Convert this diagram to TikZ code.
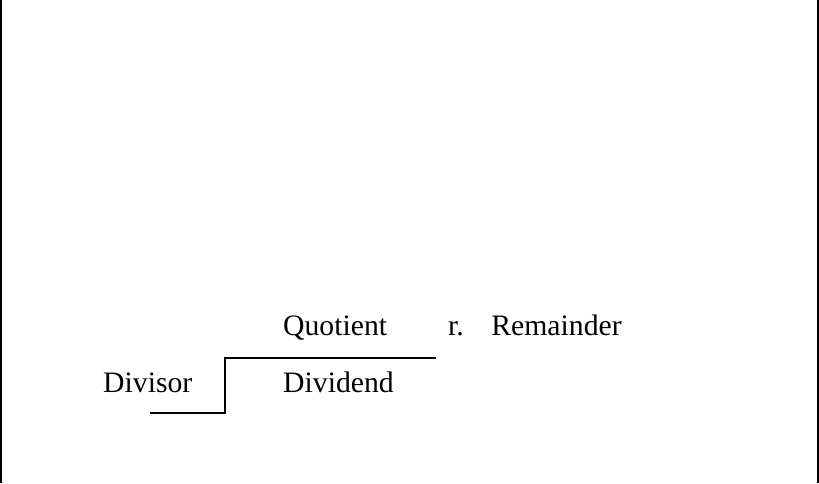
\documentclass[tikz,border=0pt]{standalone}
\usepackage{fontspec}
\setmainfont{Liberation Serif}
\begin{document}
\begin{tikzpicture}[x=1pt,y=-1pt,
  lbl/.style={anchor=base west,inner sep=0pt,font=\fontsize{29.7}{36}\selectfont},
  rule/.style={line width=2pt,line cap=rect}]
\useasboundingbox (0,0) rectangle (819,483);
\draw[line width=2pt] (1,0) -- (1,483);
\draw[line width=2pt] (818,0) -- (818,483);
\node[lbl] (quot) at (283,335) {Quotient};
\node[lbl] (rem) at (448,335) {r.\hspace{27.5pt}Remainder};
\node[lbl] (divisor) at (103,392) {Divisor};
\node[lbl] (dividend) at (283,392) {Dividend};
\coordinate (a) at (150,412.5);
\coordinate (b) at (225,412.5);
\coordinate (c) at (225,357.5);
\coordinate (d) at (436,357.5);
\draw[line width=2pt] (a) -- (b) -- (c) -- (d);
\end{tikzpicture}
\end{document}
